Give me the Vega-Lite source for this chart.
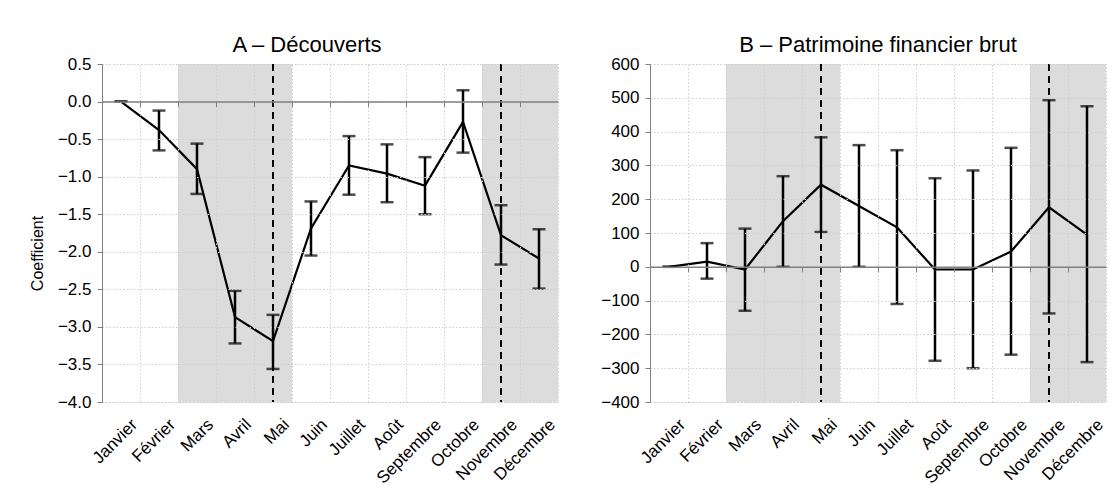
{
  "$schema": "https://vega.github.io/schema/vega-lite/v6.json",
  "padding": {"left": 28, "top": 33, "right": 4, "bottom": 4},
  "background": "white",
  "datasets": {
    "A": [
      {"month": "Janvier", "coef": 0, "lo": 0, "hi": 0},
      {"month": "Février", "coef": -0.38, "lo": -0.65, "hi": -0.12},
      {"month": "Mars", "coef": -0.9, "lo": -1.23, "hi": -0.56},
      {"month": "Avril", "coef": -2.87, "lo": -3.22, "hi": -2.52},
      {"month": "Mai", "coef": -3.19, "lo": -3.56, "hi": -2.84},
      {"month": "Juin", "coef": -1.69, "lo": -2.05, "hi": -1.33},
      {"month": "Juillet", "coef": -0.85, "lo": -1.24, "hi": -0.46},
      {"month": "Août", "coef": -0.96, "lo": -1.34, "hi": -0.57},
      {"month": "Septembre", "coef": -1.12, "lo": -1.5, "hi": -0.74},
      {"month": "Octobre", "coef": -0.27, "lo": -0.68, "hi": 0.15},
      {"month": "Novembre", "coef": -1.78, "lo": -2.17, "hi": -1.38},
      {"month": "Décembre", "coef": -2.09, "lo": -2.49, "hi": -1.7}
    ],
    "B": [
      {"month": "Janvier", "coef": 0, "lo": 0, "hi": 0},
      {"month": "Février", "coef": 15, "lo": -35, "hi": 70},
      {"month": "Mars", "coef": -8, "lo": -130, "hi": 113},
      {"month": "Avril", "coef": 135, "lo": 0, "hi": 268},
      {"month": "Mai", "coef": 243, "lo": 103, "hi": 383},
      {"month": "Juin", "coef": 180, "lo": 0, "hi": 360},
      {"month": "Juillet", "coef": 117, "lo": -110, "hi": 345},
      {"month": "Août", "coef": -8, "lo": -278, "hi": 262},
      {"month": "Septembre", "coef": -8, "lo": -300, "hi": 285},
      {"month": "Octobre", "coef": 45, "lo": -260, "hi": 352},
      {"month": "Novembre", "coef": 176, "lo": -138, "hi": 493},
      {"month": "Décembre", "coef": 95, "lo": -282, "hi": 475}
    ],
    "shade": [
      {"month": "Mars"}, {"month": "Avril"}, {"month": "Mai"},
      {"month": "Novembre"}, {"month": "Décembre"}
    ],
    "dash": [{"month": "Mai"}, {"month": "Novembre"}]
  },
  "config": {
    "font": "Liberation Sans",
    "view": {"stroke": "#cfcfcf", "strokeDash": [1.5, 2]},
    "axis": {
      "labelFont": "Liberation Sans",
      "titleFont": "Liberation Sans",
      "labelColor": "black",
      "titleColor": "black",
      "labelFontSize": 17,
      "titleFontSize": 16,
      "titleFontWeight": "normal",
      "labelOverlap": false,
      "gridColor": "#cfcfcf",
      "gridDash": [1.5, 2],
      "domainColor": "#808080",
      "tickColor": "#808080"
    },
    "title": {"font": "Liberation Sans", "fontSize": 22, "fontWeight": "normal", "color": "black"}
  },
  "hconcat": [
    {
      "width": 456,
      "height": 338,
      "title": {"text": "A – Découverts", "dx": -23, "offset": -2},
      "resolve": {"axis": {"x": "independent"}},
      "layer": [
        {
          "data": {"name": "shade"},
          "mark": {"type": "rect", "color": "#dcdcdc"},
          "encoding": {
            "x": {
              "field": "month", "type": "nominal",
              "scale": {"domain": ["Janvier", "Février", "Mars", "Avril", "Mai", "Juin", "Juillet", "Août", "Septembre", "Octobre", "Novembre", "Décembre"], "paddingInner": 0, "paddingOuter": 0},
              "axis": {"orient": "bottom", "title": null, "labelAngle": -45, "ticks": false, "domain": false, "grid": false, "labelPadding": 14, "labelOffset": 8}
            }
          }
        },
        {
          "data": {"name": "dash"},
          "mark": {"type": "rule", "color": "black", "strokeWidth": 2, "strokeDash": [7, 5]},
          "encoding": {
            "x": {
              "field": "month", "type": "nominal",
              "axis": {"orient": "bottom", "offset": -300.44, "labels": false, "title": null, "ticks": true, "tickSize": 5, "bandPosition": 0, "domainWidth": 1.5, "grid": true, "zindex": 1}
            }
          }
        },
        {
          "data": {"name": "A"},
          "mark": {"type": "rule", "color": "black", "strokeWidth": 2.5},
          "encoding": {
            "x": {"field": "month", "type": "nominal", "axis": null},
            "y": {
              "field": "lo", "type": "quantitative",
              "scale": {"domain": [-4, 0.5], "nice": false, "zero": false},
              "axis": {"title": "Coefficient", "titleY": 189, "values": [0.5, 0, -0.5, -1, -1.5, -2, -2.5, -3, -3.5, -4], "format": ".1f", "labelExpr": "replace(datum.label, '-', '−')", "labelOverlap": false, "labelBound": false, "grid": true, "tickSize": 5, "labelPadding": 6, "zindex": 1, "titlePadding": 12}
            },
            "y2": {"field": "hi"}
          }
        },
        {
          "data": {"name": "A"},
          "mark": {"type": "tick", "color": "black", "size": 13, "thickness": 2.5},
          "encoding": {
            "x": {"field": "month", "type": "nominal", "axis": null},
            "y": {"field": "lo", "type": "quantitative", "axis": {"title": "Coefficient", "titleY": 189, "values": [0.5, 0, -0.5, -1, -1.5, -2, -2.5, -3, -3.5, -4], "format": ".1f", "labelExpr": "replace(datum.label, '-', '−')", "labelOverlap": false, "labelBound": false, "grid": true, "tickSize": 5, "labelPadding": 6, "zindex": 1, "titlePadding": 12}}
          }
        },
        {
          "data": {"name": "A"},
          "mark": {"type": "tick", "color": "black", "size": 13, "thickness": 2.5},
          "encoding": {
            "x": {"field": "month", "type": "nominal", "axis": null},
            "y": {"field": "hi", "type": "quantitative", "axis": {"title": "Coefficient", "titleY": 189, "values": [0.5, 0, -0.5, -1, -1.5, -2, -2.5, -3, -3.5, -4], "format": ".1f", "labelExpr": "replace(datum.label, '-', '−')", "labelOverlap": false, "labelBound": false, "grid": true, "tickSize": 5, "labelPadding": 6, "zindex": 1, "titlePadding": 12}}
          }
        },
        {
          "data": {"name": "A"},
          "mark": {"type": "line", "color": "black", "strokeWidth": 2.2},
          "encoding": {
            "x": {"field": "month", "type": "nominal", "axis": null},
            "y": {"field": "coef", "type": "quantitative", "axis": {"title": "Coefficient", "titleY": 189, "values": [0.5, 0, -0.5, -1, -1.5, -2, -2.5, -3, -3.5, -4], "format": ".1f", "labelExpr": "replace(datum.label, '-', '−')", "labelOverlap": false, "labelBound": false, "grid": true, "tickSize": 5, "labelPadding": 6, "zindex": 1, "titlePadding": 12}}
          }
        }
      ]
    },
    {
      "width": 456,
      "height": 338,
      "title": {"text": "B – Patrimoine financier brut", "offset": -2},
      "resolve": {"axis": {"x": "independent"}},
      "layer": [
        {
          "data": {"name": "shade"},
          "mark": {"type": "rect", "color": "#dcdcdc"},
          "encoding": {
            "x": {
              "field": "month", "type": "nominal",
              "scale": {"domain": ["Janvier", "Février", "Mars", "Avril", "Mai", "Juin", "Juillet", "Août", "Septembre", "Octobre", "Novembre", "Décembre"], "paddingInner": 0, "paddingOuter": 0},
              "axis": {"orient": "bottom", "title": null, "labelAngle": -45, "ticks": false, "domain": false, "grid": false, "labelPadding": 14, "labelOffset": 8}
            }
          }
        },
        {
          "data": {"name": "dash"},
          "mark": {"type": "rule", "color": "black", "strokeWidth": 2, "strokeDash": [7, 5]},
          "encoding": {
            "x": {
              "field": "month", "type": "nominal",
              "axis": {"orient": "bottom", "offset": -135.2, "labels": false, "title": null, "ticks": true, "tickSize": 5, "bandPosition": 0, "domainWidth": 1.5, "grid": true, "zindex": 1}
            }
          }
        },
        {
          "data": {"name": "B"},
          "mark": {"type": "rule", "color": "black", "strokeWidth": 2.5},
          "encoding": {
            "x": {"field": "month", "type": "nominal", "axis": null},
            "y": {
              "field": "lo", "type": "quantitative",
              "scale": {"domain": [-400, 600], "nice": false, "zero": false},
              "axis": {"title": null, "values": [600, 500, 400, 300, 200, 100, 0, -100, -200, -300, -400], "format": "d", "labelExpr": "replace(datum.label, '-', '−')", "labelOverlap": false, "labelBound": false, "grid": true, "tickSize": 5, "labelPadding": 6, "zindex": 1}
            },
            "y2": {"field": "hi"}
          }
        },
        {
          "data": {"name": "B"},
          "mark": {"type": "tick", "color": "black", "size": 13, "thickness": 2.5},
          "encoding": {
            "x": {"field": "month", "type": "nominal", "axis": null},
            "y": {"field": "lo", "type": "quantitative", "axis": {"title": null, "values": [600, 500, 400, 300, 200, 100, 0, -100, -200, -300, -400], "format": "d", "labelExpr": "replace(datum.label, '-', '−')", "labelOverlap": false, "labelBound": false, "grid": true, "tickSize": 5, "labelPadding": 6, "zindex": 1}}
          }
        },
        {
          "data": {"name": "B"},
          "mark": {"type": "tick", "color": "black", "size": 13, "thickness": 2.5},
          "encoding": {
            "x": {"field": "month", "type": "nominal", "axis": null},
            "y": {"field": "hi", "type": "quantitative", "axis": {"title": null, "values": [600, 500, 400, 300, 200, 100, 0, -100, -200, -300, -400], "format": "d", "labelExpr": "replace(datum.label, '-', '−')", "labelOverlap": false, "labelBound": false, "grid": true, "tickSize": 5, "labelPadding": 6, "zindex": 1}}
          }
        },
        {
          "data": {"name": "B"},
          "mark": {"type": "line", "color": "black", "strokeWidth": 2.2},
          "encoding": {
            "x": {"field": "month", "type": "nominal", "axis": null},
            "y": {"field": "coef", "type": "quantitative", "axis": {"title": null, "values": [600, 500, 400, 300, 200, 100, 0, -100, -200, -300, -400], "format": "d", "labelExpr": "replace(datum.label, '-', '−')", "labelOverlap": false, "labelBound": false, "grid": true, "tickSize": 5, "labelPadding": 6, "zindex": 1}}
          }
        }
      ]
    }
  ],
  "spacing": 92,
  "bounds": "flush"
}
